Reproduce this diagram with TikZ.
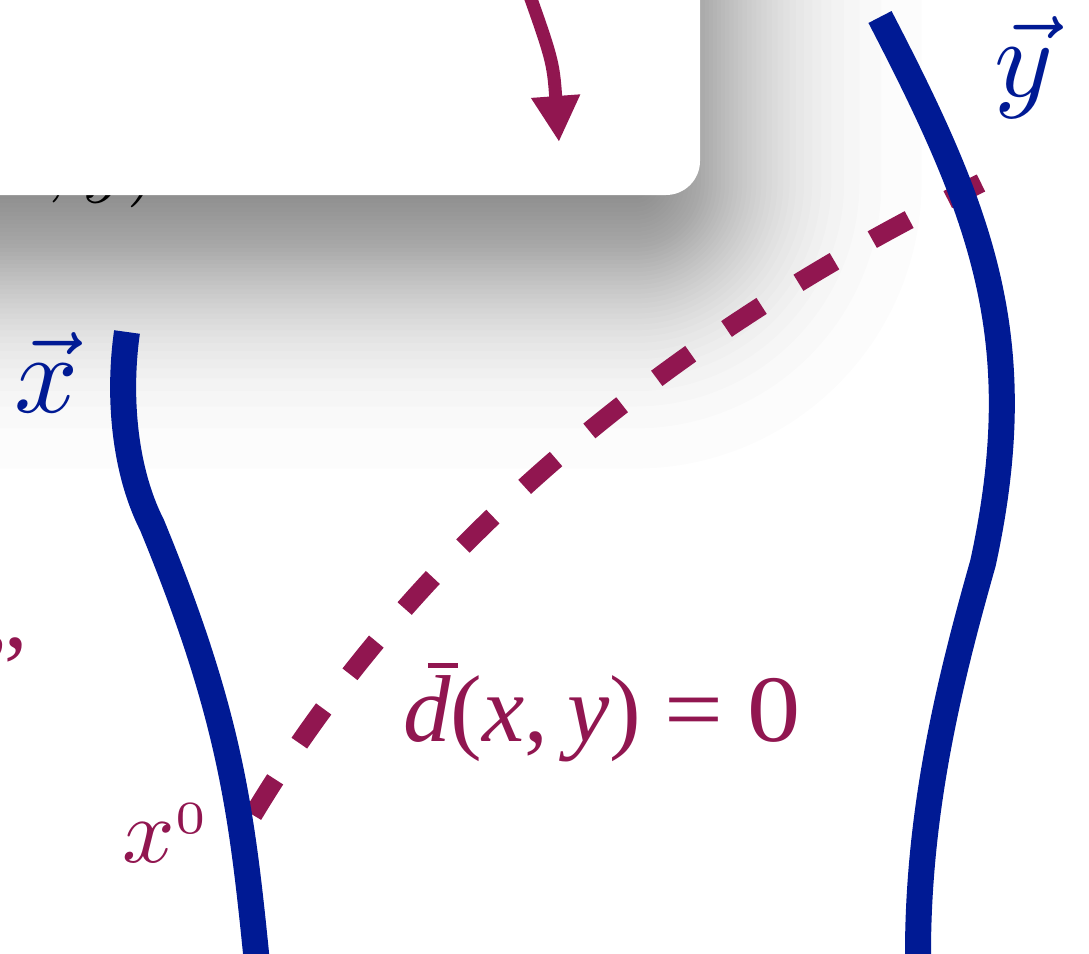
\documentclass[tikz,border=0pt]{standalone}
\usepackage{fontspec}
\newfontfamily\timesf{Liberation Serif}
\usetikzlibrary{arrows.meta}
\definecolor{cblue}{RGB}{0,26,148}
\definecolor{cpurp}{RGB}{145,22,80}
\tikzset{
  curve/.style={cblue, line width=26pt},
  lab/.style={inner sep=0pt, outer sep=0pt},
  dashline/.style={cpurp, line width=19pt, dash pattern=on 42pt off 43.5pt},
  shadowlayer/.style={black, fill opacity=0.0133},
}
\begin{document}
\begin{tikzpicture}[x=1pt, y=-1pt]
\useasboundingbox (0,0) rectangle (1089,953);
\clip (0,0) rectangle (1089,953);
\fill[white] (0,0) rectangle (1089,953);
% soft shadow of the box (stack of translucent rounded rectangles, normal profile)
\foreach \k in {1,...,60}{
  \pgfmathsetmacro\pp{(\k-0.5)/60}
  \pgfmathsetmacro\e{95*4.91*(\pp^0.14-(1-\pp)^0.14)}
  \pgfmathsetmacro\rr{max(60+\e,1)}
  \fill[shadowlayer, rounded corners=\rr pt] (-600,-600) rectangle (695+\e,242+\e);
}
% text hidden behind the box
\node[lab, anchor=base east, scale=8.5] (hid) at (160,186) {$(x, y)$};
% box
\fill[white, rounded corners=34pt] (-100,-100) rectangle (700,195);
% arrow into the box
\coordinate (arrs) at (517,-40);
\coordinate (arre) at (559,142);
\draw[cpurp, line width=13pt, -{Triangle[length=46pt,width=46pt]}]
  (arrs) .. controls (553,60) .. (arre);
% purple fragment at left edge
\node[lab, anchor=base west, scale=9.5, text=cpurp] (frag) at (-16,647) {\timesf „};
% dashed line
\coordinate (x0) at (253,815);
\coordinate (yend) at (981,183);
\draw[dashline] (x0) .. controls (422,534) and (685,327) .. (yend);
% blue curves
\draw[curve] (127,332) .. controls (118,395) and (124,470) .. (152,525)
  .. controls (228,710) and (241,804) .. (256,953) -- (258,990);
\draw[curve] (880,17) .. controls (981,212) and (1032,338) .. (983,563)
  .. controls (953,669) and (918,803) .. (918,953) -- (918,990);
% labels
\node[lab, anchor=base, scale=11.2, text=cblue] (xvec) at (46.5,412) {$\vec{x}$};
\node[lab, anchor=base, scale=11.2, text=cblue] (yvec) at (1024,96) {$\vec{y}$};
\node[lab, anchor=base west, scale=9.2, text=cpurp] (xnull) at (122,862)
  {$x$\raisebox{0.315em}{$\scriptscriptstyle 0$}};
\node[lab, anchor=base west, scale=9.5, text=cpurp] (dlab) at (403,741)
  {\timesf\rlap{\hspace{0.263em}\rule[0.77em]{0.32em}{0.053em}}\textit{d}(\textit{x},\hspace{0.2em}\textit{y})\hspace{0.25em}\scalebox{1.1}[1]{=}\hspace{0.25em}\scalebox{1.12}[1]{0}};
\end{tikzpicture}
\end{document}
